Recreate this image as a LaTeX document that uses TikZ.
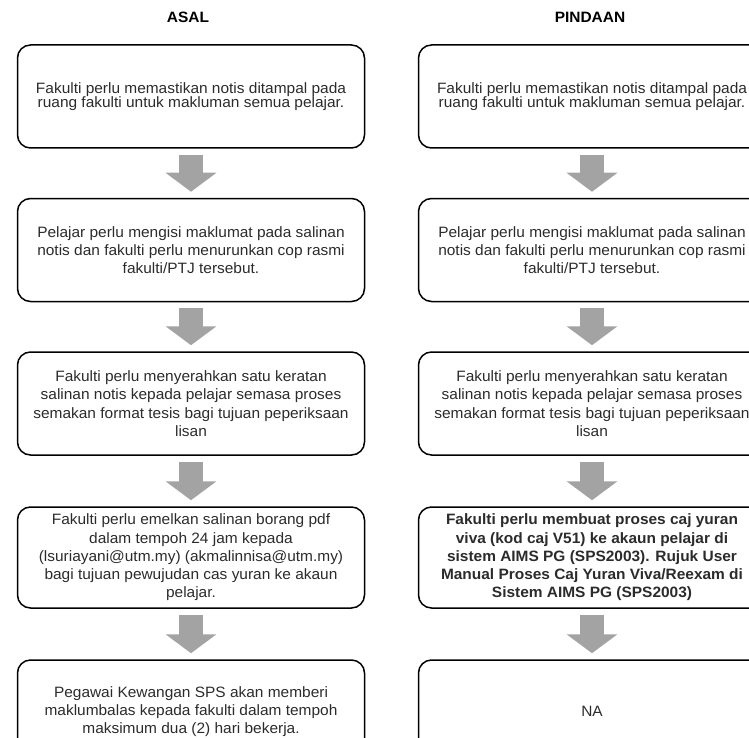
\documentclass[tikz,border=0pt]{standalone}
\usepackage{fontspec}
\setmainfont{Liberation Sans}[FakeStretch=1.03]
\usetikzlibrary{arrows.meta}
\definecolor{arrowgray}{HTML}{A3A3A3}
\definecolor{textgray}{HTML}{2B2B2B}
\tikzset{
 stepbox/.style={draw,rounded corners=13pt,line width=1.5pt,minimum width=347pt,minimum height=103pt,inner sep=0pt,align=center,text=textgray,font=\fontsize{15}{18.3}\selectfont},
 heading/.style={font=\bfseries\fontsize{15}{18}\selectfont},
 flow/.style={arrowgray,line width=24pt,-{Triangle[width=50pt,length=19pt]},shorten <=6pt,shorten >=6pt}
}
\begin{document}
\begin{tikzpicture}[x=1pt,y=1pt]
 \useasboundingbox (0,0) rectangle (749,-738);
 \clip (0,0) rectangle (749,-738);
 \node[heading] (asal) at (188,-17) {ASAL};
 \node[heading] (pindaan) at (590,-17) {PINDAAN};
 % asal
 \node[stepbox,font=\fontsize{15}{14}\selectfont] (a1) at (191,-96.5) {Fakulti perlu memastikan notis ditampal pada\\ruang fakulti untuk makluman semua pelajar.};
 \node[stepbox] (a2) at (191,-250) {Pelajar perlu mengisi maklumat pada salinan\\notis dan fakulti perlu menurunkan cop rasmi\\fakulti/PTJ tersebut.};
 \node[stepbox] (a3) at (191,-403.5) {Fakulti perlu menyerahkan satu keratan\\salinan notis kepada pelajar semasa proses\\semakan format tesis bagi tujuan peperiksaan\\lisan};
 \node[stepbox,minimum height=101pt] (a4) at (191,-557.5) {Fakulti perlu emelkan salinan borang pdf\\dalam tempoh 24 jam kepada\\(lsuriayani@utm.my) (akmalinnisa@utm.my)\\bagi tujuan pewujudan cas yuran ke akaun\\pelajar.};
 \node[stepbox] (a5) at (191,-711.5) {Pegawai Kewangan SPS akan memberi\\maklumbalas kepada fakulti dalam tempoh\\maksimum dua (2) hari bekerja.};
 % pindaan
 \node[stepbox,font=\fontsize{15}{14}\selectfont] (p1) at (592,-96.5) {Fakulti perlu memastikan notis ditampal pada\\ruang fakulti untuk makluman semua pelajar.};
 \node[stepbox] (p2) at (592,-250) {Pelajar perlu mengisi maklumat pada salinan\\notis dan fakulti perlu menurunkan cop rasmi\\fakulti/PTJ tersebut.};
 \node[stepbox] (p3) at (592,-403.5) {Fakulti perlu menyerahkan satu keratan\\salinan notis kepada pelajar semasa proses\\semakan format tesis bagi tujuan peperiksaan\\lisan};
 \node[stepbox,minimum height=101pt,font=\bfseries\fontsize{15}{18.3}\selectfont] (p4) at (592,-557.5) {Fakulti perlu membuat proses caj yuran\\viva (kod caj V51) ke akaun pelajar di\\sistem AIMS PG (SPS2003). Rujuk User\\Manual Proses Caj Yuran Viva/Reexam di\\Sistem AIMS PG (SPS2003)};
 \node[stepbox] (p5) at (592,-711.5) {NA};
 % arrows
 \draw[flow] (a1) -- (a2);
 \draw[flow] (a2) -- (a3);
 \draw[flow] (a3) -- (a4);
 \draw[flow] (a4) -- (a5);
 \draw[flow] (p1) -- (p2);
 \draw[flow] (p2) -- (p3);
 \draw[flow] (p3) -- (p4);
 \draw[flow] (p4) -- (p5);
\end{tikzpicture}
\end{document}
